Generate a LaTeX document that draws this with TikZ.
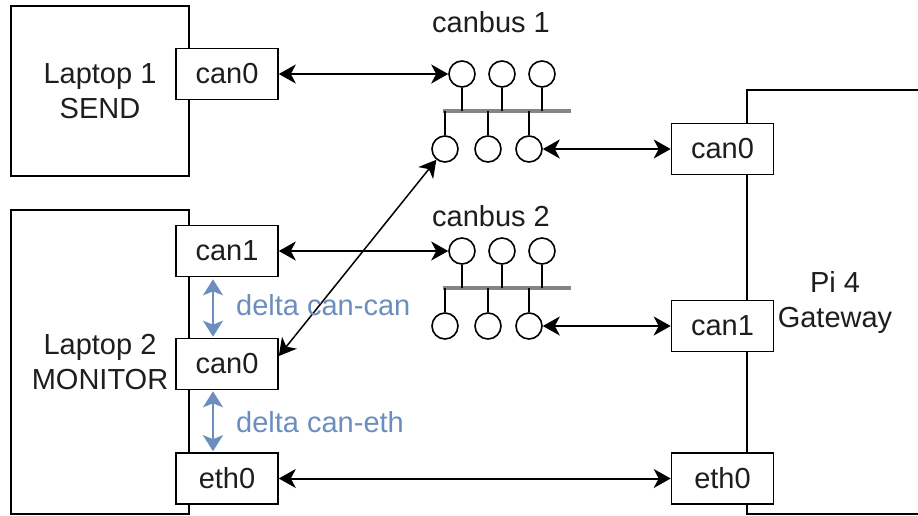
\documentclass[tikz,border=0pt]{standalone}
\usepackage{fontspec}
\setmainfont{Liberation Sans}
\usetikzlibrary{arrows.meta}
\definecolor{ink}{HTML}{1E1E1E}
\definecolor{deltablue}{HTML}{6C8EBF}
\definecolor{busgray}{HTML}{858585}

\begin{document}
\begin{tikzpicture}[x=1pt,y=-1pt,
  every node/.style={font=\fontsize{29}{35}\selectfont, text=ink},
  device/.style={draw=black, line width=1.6pt, fill=white, align=center, inner sep=0pt},
  port/.style={draw=black, line width=1.6pt, fill=white, minimum width=102pt,
    minimum height=51pt, inner sep=0pt},
  tap/.style={circle, draw=black, line width=1.6pt, fill=white, minimum size=26pt, inner sep=0pt},
  stem/.style={draw=black, line width=1.6pt},
  busbar/.style={draw=busgray, line width=4pt},
  link/.style={draw=black, line width=2pt,
    {Stealth[length=17pt,width=19pt,inset=5pt]}-{Stealth[length=17pt,width=19pt,inset=5pt]}},
  delta/.style={draw=deltablue, line width=2.6pt,
    {Stealth[length=16pt,width=20pt,inset=4pt]}-{Stealth[length=16pt,width=20pt,inset=4pt]}},
  deltalabel/.style={anchor=west, inner sep=0pt, text=deltablue},
  buslabel/.style={inner sep=0pt},
]
\useasboundingbox[fill=white] (0,0) rectangle (918,515);

% devices
\node[device, minimum width=178pt, minimum height=170pt] (lap1) at (100,91) {Laptop 1\\SEND};
\node[device, minimum width=178pt, minimum height=304pt] (lap2) at (100,362) {Laptop 2\\MONITOR};
\node[device, minimum width=176pt, minimum height=424pt] (pi) at (835,302) {Pi 4\\Gateway};

% interfaces
\node[port] (l1can0) at (227,74) {can0};
\node[port] (l2can1) at (227,251) {can1};
\node[port] (l2can0) at (227,364) {can0};
\node[port] (l2eth0) at (227,478.5) {eth0};
\node[port] (pican0) at (722.5,149) {can0};
\node[port] (pican1) at (722.5,326) {can1};
\node[port] (pieth0) at (722.5,478.5) {eth0};

% canbus 1
\node[buslabel] (bus1lbl) at (491,22) {canbus 1};
\coordinate (b1w) at (443,111);
\coordinate (b1e) at (571,111);
\draw[busbar] (b1w) -- (b1e);
\node[tap] (b1u1) at (462,74) {};
\node[tap] (b1u2) at (502,74) {};
\node[tap] (b1u3) at (542,74) {};
\node[tap] (b1d1) at (445,149) {};
\node[tap] (b1d2) at (488,149) {};
\node[tap] (b1d3) at (529,149) {};
\foreach \t in {b1u1,b1u2,b1u3} \draw[stem] (\t.south) -- (\t.south |- b1w);
\foreach \t in {b1d1,b1d2,b1d3} \draw[stem] (\t.north) -- (\t.north |- b1w);

% canbus 2
\node[buslabel] (bus2lbl) at (491,216) {canbus 2};
\coordinate (b2w) at (443,288);
\coordinate (b2e) at (571,288);
\draw[busbar] (b2w) -- (b2e);
\node[tap] (b2u1) at (462,251) {};
\node[tap] (b2u2) at (502,251) {};
\node[tap] (b2u3) at (542,251) {};
\node[tap] (b2d1) at (445,326) {};
\node[tap] (b2d2) at (488,326) {};
\node[tap] (b2d3) at (529,326) {};
\foreach \t in {b2u1,b2u2,b2u3} \draw[stem] (\t.south) -- (\t.south |- b2w);
\foreach \t in {b2d1,b2d2,b2d3} \draw[stem] (\t.north) -- (\t.north |- b2w);

% links
\draw[link] (l1can0.east) -- (b1u1.west);
\draw[link] (b1d3.east) -- (pican0.west);
\draw[link] (l2can1.east) -- (b2u1.west);
\draw[link] (b2d3.east) -- (pican1.west);
\draw[link] (l2eth0.east) -- (pieth0.west);
\draw[link, line width=1.5pt] ([yshift=8pt]l2can0.east) -- (b1d1);

% timing deltas
\draw[delta, shorten <=2pt, shorten >=1pt] ([xshift=-14pt]l2can1.south) -- ([xshift=-14pt]l2can0.north);
\draw[delta, shorten <=1pt, shorten >=1pt] ([xshift=-14pt]l2can0.south) -- ([xshift=-14pt]l2eth0.north);
\node[deltalabel] (dcc) at (236,305) {delta can-can};
\node[deltalabel] (dce) at (236,422) {delta can-eth};
\end{tikzpicture}
\end{document}
